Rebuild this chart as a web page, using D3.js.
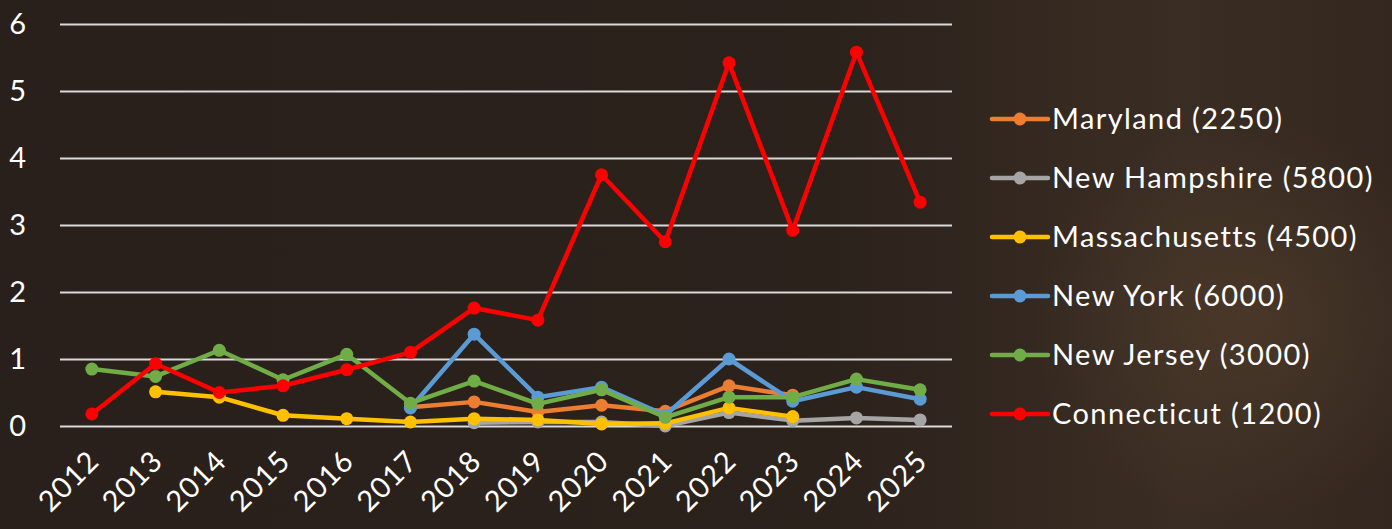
<!DOCTYPE html>
<html>
<head>
<meta charset="utf-8">
<script src="https://cdn.jsdelivr.net/npm/d3@7"></script>
<style>
  body { margin: 0; background: #2a201b; }
  svg { display: block; }
</style>
</head>
<body>
<svg id="chart" width="1392" height="529"></svg>
<script>
// years on the x axis
const years = ["2012","2013","2014","2015","2016","2017","2018","2019","2020","2021","2022","2023","2024","2025"];

// series values, null = no data for that year
const maryland      = [null,null,null,null,null,0.28,0.36,0.21,0.31,0.22,0.60,0.46,null,null];
const newHampshire  = [null,null,null,null,null,null,0.05,0.06,0.06,0.00,0.20,0.08,0.12,0.09];
const massachusetts = [null,0.51,0.43,0.16,0.11,0.06,0.11,0.09,0.03,0.04,0.27,0.14,null,null];
const newYork       = [null,null,null,null,null,0.27,1.37,0.43,0.58,0.16,1.00,0.37,0.58,0.40];
const newJersey     = [0.85,0.74,1.13,0.69,1.07,0.34,0.67,0.33,0.54,0.13,0.43,0.43,0.70,0.54];
const connecticut   = [0.18,0.93,0.50,0.60,0.84,1.10,1.76,1.58,3.75,2.75,5.42,2.92,5.58,3.34];

const seriesNames  = ["Maryland (2250)","New Hampshire (5800)","Massachusetts (4500)","New York (6000)","New Jersey (3000)","Connecticut (1200)"];
const seriesColors = ["#ED7D31","#A5A5A5","#FFC000","#5B9BD5","#70AD47","#FF0000"];
const yTicks = [0,1,2,3,4,5,6];

const series = [maryland, newHampshire, massachusetts, newYork, newJersey, connecticut]
  .map((vals, i) => ({ name: seriesNames[i], color: seriesColors[i], values: vals }));

const svg = d3.select("#chart");
const W = 1392, H = 529;
const font = "Lato, 'Open Sans', sans-serif";

// background - dark photo look
const defs = svg.append("defs");
const bg = defs.append("linearGradient").attr("id", "bg").attr("x1", 0).attr("x2", 1).attr("y1", 0).attr("y2", 0);
bg.append("stop").attr("offset", "0%").attr("stop-color", "#2a201b");
bg.append("stop").attr("offset", "60%").attr("stop-color", "#2c221c");
bg.append("stop").attr("offset", "85%").attr("stop-color", "#3a2d23");
bg.append("stop").attr("offset", "100%").attr("stop-color", "#33271f");
svg.append("rect").attr("width", W).attr("height", H).attr("fill", "url(#bg)");

const glow = defs.append("radialGradient").attr("id", "glow");
glow.append("stop").attr("offset", "0%").attr("stop-color", "#5a4430").attr("stop-opacity", 0.5);
glow.append("stop").attr("offset", "100%").attr("stop-color", "#5a4430").attr("stop-opacity", 0);
svg.append("ellipse").attr("cx", 1250).attr("cy", 320).attr("rx", 220).attr("ry", 200).attr("fill", "url(#glow)");

const margin = { left: 60, right: 440, top: 24, bottom: 103 };
const x = d3.scalePoint().domain(years).range([margin.left, W - margin.right]).padding(0.5);
const y = d3.scaleLinear().domain([0, 6]).range([H - margin.bottom, margin.top]);

// gridlines
svg.append("g")
  .attr("transform", `translate(${margin.left},0)`)
  .call(d3.axisLeft(y).tickValues(yTicks).tickSize(-(W - margin.right - margin.left)).tickFormat(""))
  .call(g => g.select(".domain").remove())
  .call(g => g.selectAll("line").attr("stroke", "#d9d9d9").attr("stroke-width", 2));

// y labels
svg.append("g").selectAll("text").data(yTicks).join("text")
  .attr("x", 26).attr("y", d => y(d)).attr("dy", "0.36em")
  .attr("text-anchor", "end")
  .attr("fill", "#ffffff").attr("font-family", font).attr("font-size", 29)
  .text(d => d);

// x labels
svg.append("g").selectAll("text").data(years).join("text")
  .attr("transform", d => `translate(${x(d) + 9},${y(0) + 37}) rotate(-45)`)
  .attr("text-anchor", "end")
  .attr("fill", "#ffffff").attr("font-family", font).attr("font-size", 29)
  .attr("letter-spacing", 1)
  .text(d => d);

const line = d3.line()
  .defined(d => d.v != null)
  .x(d => x(d.year))
  .y(d => y(d.v));

series.forEach(s => {
  const pts = years.map((yr, i) => ({ year: yr, v: s.values[i] }));
  const g = svg.append("g");
  g.append("path").datum(pts)
    .attr("d", line)
    .attr("fill", "none").attr("stroke", s.color)
    .attr("stroke-width", 4.5).attr("stroke-linejoin", "round").attr("stroke-linecap", "round");
  g.selectAll("circle").data(pts.filter(d => d.v != null)).join("circle")
    .attr("cx", d => x(d.year)).attr("cy", d => y(d.v)).attr("r", 6.5)
    .attr("fill", s.color);
});

// legend
const legend = svg.append("g").attr("transform", "translate(992,119)");
const item = legend.selectAll("g").data(series).join("g")
  .attr("transform", (d, i) => `translate(0,${i * 59})`);
item.append("line").attr("x1", 0).attr("x2", 56)
  .attr("stroke", d => d.color).attr("stroke-width", 4.5).attr("stroke-linecap", "round");
item.append("circle").attr("cx", 28).attr("r", 6.5).attr("fill", d => d.color);
item.append("text").attr("x", 60).attr("dy", "0.35em")
  .attr("fill", "#ffffff").attr("font-family", font).attr("font-size", 29)
  .attr("letter-spacing", 1.4)
  .text(d => d.name);
</script>
</body>
</html>
